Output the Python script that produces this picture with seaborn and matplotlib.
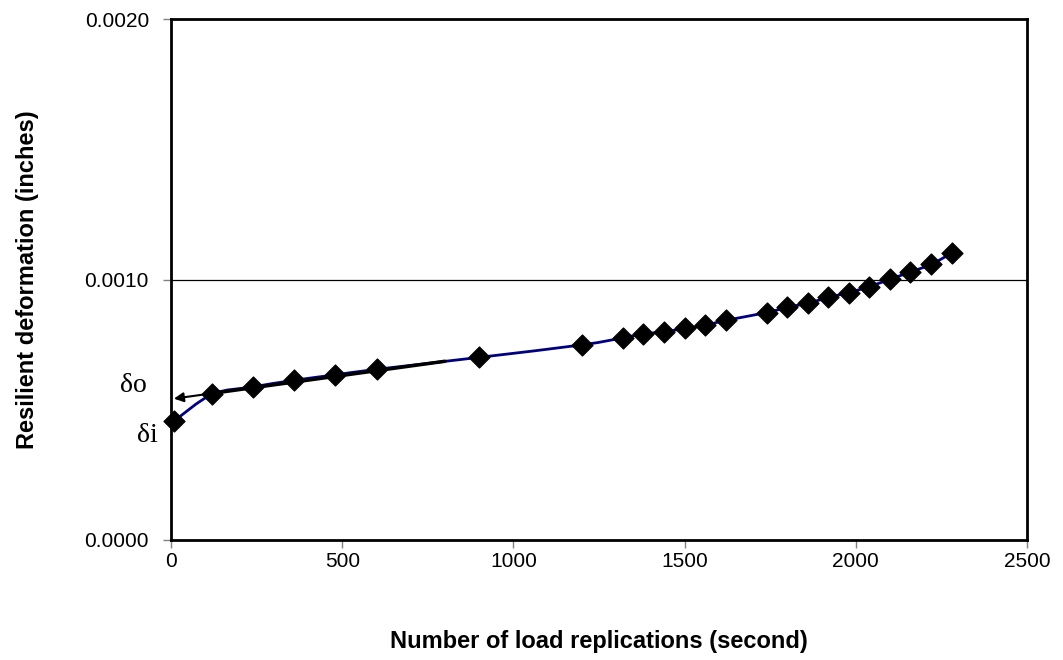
import matplotlib
matplotlib.use("Agg")
import matplotlib.pyplot as plt
import matplotlib.ticker as ticker
import numpy as np
import pandas as pd
import seaborn as sns
from matplotlib.path import Path
from matplotlib.patches import PathPatch

# load replications (s) and resilient deformation (in)
CYCLES = [8, 120, 240, 360, 480, 600, 900, 1200, 1320, 1380, 1440, 1500, 1560,
          1620, 1740, 1800, 1860, 1920, 1980, 2040, 2100, 2160, 2220, 2280]
DEFORMATION = [0.000456, 0.000559, 0.000588, 0.000613, 0.000634, 0.000655,
               0.000701, 0.000749, 0.000776, 0.000791, 0.000799, 0.000812,
               0.000824, 0.000843, 0.000873, 0.000893, 0.000909, 0.000931,
               0.000950, 0.000973, 0.001001, 0.001029, 0.001058, 0.001101]

# tangent line extrapolated back to zero (delta o)
TANGENT_X = [800, 0]
TANGENT_Y = [0.000686, 0.000541]

X_TICKS = [0, 500, 1000, 1500, 2000, 2500]
Y_TICKS = [0.0, 0.0010, 0.0020]

NAVY = "#000080"


def smooth_path(x, y, tension=1 / 6):
    # excel-style smoothed line: cubic bezier through every point
    pts = np.column_stack([x, y])
    verts = [pts[0]]
    codes = [Path.MOVETO]
    n = len(pts)
    for i in range(n - 1):
        p0 = pts[i - 1] if i > 0 else pts[i]
        p1 = pts[i]
        p2 = pts[i + 1]
        p3 = pts[i + 2] if i + 2 < n else pts[i + 1]
        c1 = p1 + (p2 - p0) * tension
        c2 = p2 - (p3 - p1) * tension
        verts += [c1, c2, p2]
        codes += [Path.CURVE4] * 3
    return Path(verts, codes)


def on_tangent(x):
    x0, x1 = TANGENT_X
    y0, y1 = TANGENT_Y
    return y0 + (y1 - y0) * (x - x0) / (x1 - x0)


df = pd.DataFrame({"cycles": CYCLES, "deformation": DEFORMATION})

sns.set_style("white")
plt.rcParams["font.family"] = ["Liberation Sans", "DejaVu Sans"]
plt.rcParams["text.color"] = "black"
plt.rcParams["axes.labelcolor"] = "black"
plt.rcParams["xtick.labelcolor"] = "black"
plt.rcParams["ytick.labelcolor"] = "black"

fig = plt.figure(figsize=(10.63, 6.6), dpi=100)
ax = fig.add_axes([0.161, 0.182, 0.805, 0.789])

ax.add_patch(PathPatch(smooth_path(df["cycles"].values, df["deformation"].values),
                       facecolor="none", edgecolor=NAVY, lw=2.0, zorder=3))

# thick tangent, then the arrow down to the y axis
ax.plot([TANGENT_X[0], 100], [TANGENT_Y[0], on_tangent(100)],
        color="black", lw=2.5, zorder=4)
ax.annotate("", xy=(TANGENT_X[1], TANGENT_Y[1]), xytext=(110, on_tangent(110)),
            arrowprops=dict(arrowstyle="-|>", color="black", lw=1.5, mutation_scale=14),
            zorder=4)

sns.scatterplot(data=df, x="cycles", y="deformation", marker="D", s=115,
                color="black", edgecolor="black", ax=ax, zorder=5, clip_on=False)

ax.set_xlim(0, 2500)
ax.set_ylim(0, 0.0020)
ax.set_xticks(X_TICKS)
ax.set_yticks(Y_TICKS)
ax.yaxis.set_major_formatter(ticker.FormatStrFormatter("%.4f"))
ax.axhline(0.0010, color="black", lw=0.9, zorder=1)

for spine in ax.spines.values():
    spine.set_linewidth(2.0)
    spine.set_color("black")

ax.tick_params(axis="both", direction="out", length=6, width=1, color="#808080",
               labelsize=15, labelcolor="black", bottom=True, left=True)
ax.tick_params(axis="x", pad=3)
ax.tick_params(axis="y", pad=10)

ax.set_xlabel("Number of load replications (second)", fontsize=17,
              fontweight="bold", labelpad=42, color="black")
ax.set_ylabel("Resilient deformation (inches)", fontsize=17,
              fontweight="bold", labelpad=33, color="black")

ax.text(-0.044, 0.296, "\u03b4o", transform=ax.transAxes, fontsize=20,
        family=["Liberation Serif", "DejaVu Serif"], ha="center", va="center")
ax.text(-0.028, 0.2, "\u03b4i", transform=ax.transAxes, fontsize=20,
        family=["Liberation Serif", "DejaVu Serif"], ha="center", va="center")

fig.savefig("out.png", dpi=100)
